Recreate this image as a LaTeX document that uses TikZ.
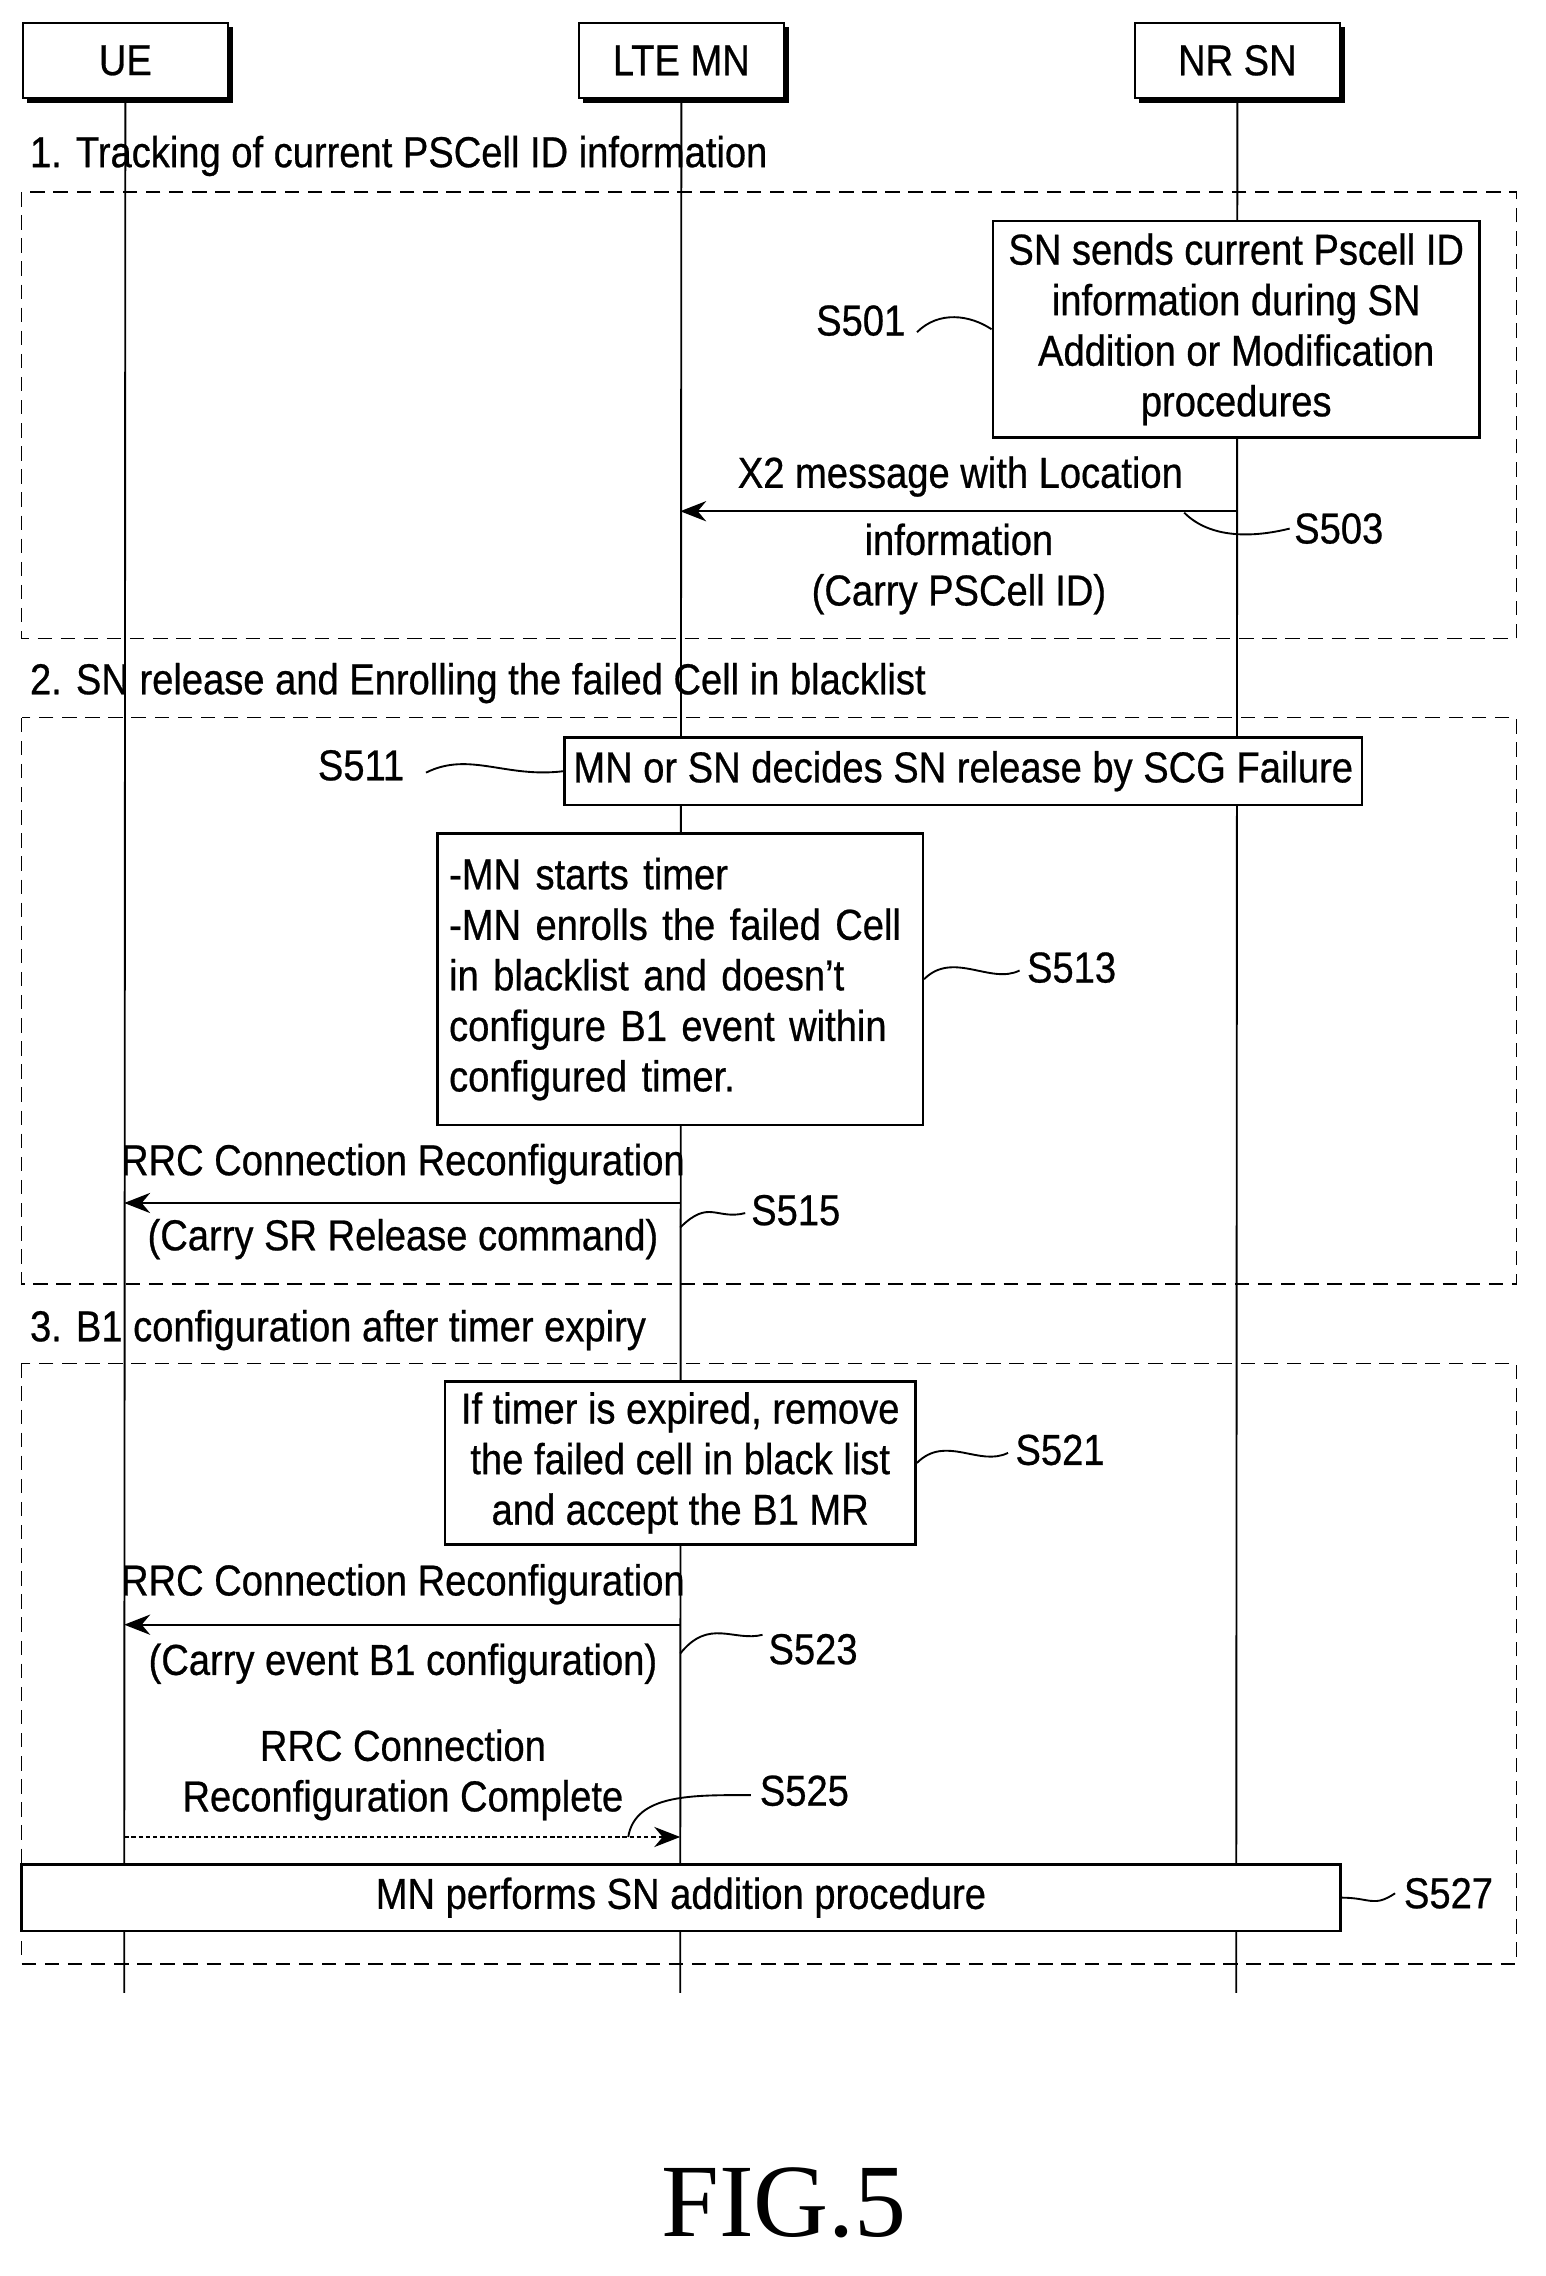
\documentclass[tikz,border=0pt]{standalone}
\usepackage{fontspec}
\setmainfont{Liberation Sans}[FakeStretch=0.88,FakeBold=0.6]
\newfontfamily\figfont{Liberation Serif}
\usetikzlibrary{arrows.meta}
\begin{document}
\begin{tikzpicture}[x=1pt,y=-1pt,line width=1.6pt,
  every node/.style={font=\fontsize{30}{35}\selectfont,inner sep=0pt},
  hdr/.style={draw,minimum width=142pt,minimum height=52pt,anchor=north west},
  box/.style={draw,line width=1.8pt,inner sep=6pt,align=center},
  sec/.style={draw,dashed,line width=1pt,dash pattern=on 10pt off 6pt},
  msg/.style={-{Stealth[length=18pt,width=14pt]},line width=1.6pt},
  sq/.style={line width=1.3pt},
  lbl/.style={anchor=center}]
\useasboundingbox (0,0) rectangle (1070,1576);
% headers
\foreach \n/\x/\t in {ue/15/UE,mn/400/LTE MN,sn/785/NR SN}{
  \fill (\x+4,19) rectangle (\x+146,71);
  \node[hdr,fill=white] (\n) at (\x,15) {\t};
}
\coordinate (ueb) at (86,1380); \coordinate (mnb) at (471,1380); \coordinate (snb) at (856,1380);
\draw[line width=1.3pt] (ue.south) -- (ueb);
\draw[line width=1.3pt] (mn.south) -- (mnb);
\draw[line width=1.3pt] (sn.south) -- (snb);
% sections
\node[anchor=west] (t1) at (20,108) {1. Tracking of current PSCell ID information};
\draw[sec] (15,133) rectangle (1050,442);
\node[anchor=west] (t2) at (20,473) {2. SN release and Enrolling the failed Cell in blacklist};
\draw[sec] (15,497) rectangle (1050,889);
\node[anchor=west] (t3) at (20,921) {3. B1 configuration after timer expiry};
\draw[sec] (15,944) rectangle (1050,1360);
% S501
\node[box,fill=white,minimum width=337pt,minimum height=150pt] (b501) at (856,228)
 {SN sends current Pscell ID\\information during SN\\Addition or Modification\\procedures};
\node (l501) at (596,222) {S501};
\draw[sq] (635,230) .. controls +(15,-15) and +(-15,-10) .. (b501.west);
% S503
\coordinate (a503s) at (856,354); \coordinate (a503e) at (471,354);
\draw[msg] (a503s) -- (a503e);
\node (m503a) at (665,330) {X2 message with Location};
\node[align=center] (m503b) at (664,394) {information\\(Carry PSCell ID)};
\node (l503) at (927,366) {S503};
\draw[sq] (820,355) .. controls +(20,20) and +(-20,5) .. (893,366);
% S511
\node[box,fill=white,minimum width=540pt,minimum height=47pt] (b511) at (667,534)
 {MN or SN decides SN release by SCG Failure};
\node (l511) at (250,530) {S511};
\draw[sq] (295,535) .. controls +(30,-15) and +(-40,5) .. (b511.west);
% S513
\node[box,fill=white,align=left,minimum width=336pt,minimum height=202pt,text width=320pt] (b513) at (471,678)
 {\raggedright -MN starts timer\\-MN enrolls the failed Cell\\in blacklist and doesn't\\configure B1 event within\\configured timer.};
\node (l513) at (742,670) {S513};
\draw[sq] (b513.east) .. controls +(20,-20) and +(-20,10) .. (706,672);
% S515
\coordinate (a515s) at (471,833); \coordinate (a515e) at (86,833);
\draw[msg] (a515s) -- (a515e);
\node (m515a) at (279,806) {RRC Connection Reconfiguration};
\node (m515b) at (279,858) {(Carry SR Release command)};
\node (l515) at (551,838) {S515};
\draw[sq] (471,850) .. controls +(20,-20) and +(-20,5) .. (516,840);
% S521
\node[box,fill=white,minimum width=326pt,minimum height=113pt] (b521) at (471,1013)
 {If timer is expired, remove\\the failed cell in black list\\and accept the B1 MR};
\node (l521) at (734,1004) {S521};
\draw[sq] (b521.east) .. controls +(20,-20) and +(-20,10) .. (698,1006);
% S523
\coordinate (a523s) at (471,1125); \coordinate (a523e) at (86,1125);
\draw[msg] (a523s) -- (a523e);
\node (m523a) at (279,1097) {RRC Connection Reconfiguration};
\node (m523b) at (279,1152) {(Carry event B1 configuration)};
\node (l523) at (563,1142) {S523};
\draw[sq] (471,1145) .. controls +(20,-25) and +(-20,5) .. (528,1132);
% S525
\coordinate (a525s) at (86,1272); \coordinate (a525e) at (471,1272);
\draw[msg,line width=1pt,dash pattern=on 3pt off 2pt] (a525s) -- (a525e);
\node[align=center] (m525) at (279,1229) {RRC Connection\\Reconfiguration Complete};
\node (l525) at (557,1240) {S525};
\draw[sq] (435,1272) .. controls +(5,-30) and +(-40,0) .. (520,1243);
% S527
\node[box,fill=white,minimum width=913pt,minimum height=46pt] (b527) at (471.5,1314)
 {MN performs SN addition procedure};
\node (l527) at (1003,1311) {S527};
\draw[sq] (b527.east) .. controls +(20,0) and +(-15,10) .. (966,1311);
% fig
\node[font=\figfont\fontsize{72}{80}\selectfont] (fig) at (543,1525) {FIG.5};
\end{tikzpicture}
\end{document}
